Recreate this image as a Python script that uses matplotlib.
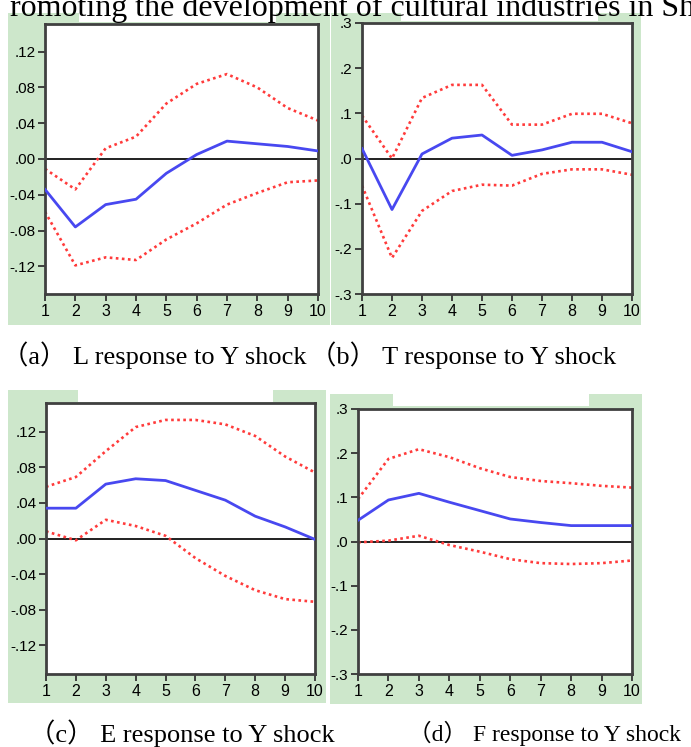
import matplotlib
matplotlib.use("Agg")
import matplotlib.pyplot as plt
from matplotlib.patches import Rectangle

W, H = 691, 747

periods = list(range(1, 11))

# (a) L response to Y shock
a_resp = [-0.034, -0.076, -0.051, -0.045, -0.016, 0.005, 0.020, 0.017, 0.014, 0.009]
a_upper = [-0.011, -0.034, 0.012, 0.025, 0.062, 0.084, 0.095, 0.080, 0.057, 0.043]
a_lower = [-0.059, -0.119, -0.110, -0.113, -0.090, -0.072, -0.051, -0.038, -0.026, -0.024]

# (b) T response to Y shock
b_resp = [0.022, -0.113, 0.010, 0.045, 0.052, 0.007, 0.019, 0.036, 0.036, 0.015]
b_upper = [0.095, 0.000, 0.134, 0.163, 0.163, 0.075, 0.075, 0.099, 0.099, 0.078]
b_lower = [-0.060, -0.220, -0.116, -0.072, -0.058, -0.060, -0.034, -0.024, -0.024, -0.036]

# (c) E response to Y shock
c_resp = [0.034, 0.034, 0.061, 0.067, 0.065, 0.054, 0.043, 0.025, 0.013, -0.001]
c_upper = [0.058, 0.069, 0.098, 0.125, 0.133, 0.133, 0.128, 0.115, 0.092, 0.074]
c_lower = [0.008, -0.002, 0.021, 0.014, 0.003, -0.022, -0.042, -0.058, -0.068, -0.071]

# (d) F response to Y shock
d_resp = [0.048, 0.094, 0.109, 0.089, 0.070, 0.051, 0.043, 0.036, 0.036, 0.036]
d_upper = [0.096, 0.187, 0.209, 0.191, 0.166, 0.146, 0.137, 0.132, 0.126, 0.122]
d_lower = [-0.002, 0.002, 0.013, -0.008, -0.023, -0.040, -0.049, -0.051, -0.049, -0.043]

small_ticks = [0.12, 0.08, 0.04, 0.0, -0.04, -0.08, -0.12]
small_labels = [".12", ".08", ".04", ".00", "-.04", "-.08", "-.12"]
big_ticks = [0.3, 0.2, 0.1, 0.0, -0.1, -0.2, -0.3]
big_labels = [".3", ".2", ".1", ".0", "-.1", "-.2", "-.3"]

captions = ["（a） L response to Y shock", "（b） T response to Y shock",
            "（c） E response to Y shock", "（d） F response to Y shock"]
top_line = "romoting the development of cultural industries in Sh"

GREEN = "#cde7cb"
tick_font = ["Liberation Sans"]
cap_font = ["Liberation Serif", "Noto Sans CJK SC"]

fig = plt.figure(figsize=(W / 100, H / 100), dpi=100)


def box(x0, y0, x1, y1, color, z=0):
    # pixel box (top-left origin) -> figure rectangle
    fig.add_artist(Rectangle((x0 / W, 1 - y1 / H), (x1 - x0) / W, (y1 - y0) / H,
                             transform=fig.transFigure, facecolor=color,
                             edgecolor="none", zorder=z))


def axes_px(x0, y0, x1, y1):
    return fig.add_axes([x0 / W, 1 - y1 / H, (x1 - x0) / W, (y1 - y0) / H])


# green panel backgrounds with the white notch on top
box(8, 13, 330, 325, GREEN)
box(79, 13, 276, 22, "white", 0.5)
box(331, 13, 641, 325, GREEN)
box(401, 13, 598, 21, "white", 0.5)
box(8, 390, 326, 703, GREEN)
box(78, 390, 273, 402, "white", 0.5)
box(330, 394, 642, 704, GREEN)
box(393, 394, 589, 406, "white", 0.5)

panels = [
    ((45, 24, 318, 294), a_resp, a_upper, a_lower, 0.151, small_ticks, small_labels),
    ((362, 23, 632, 294), b_resp, b_upper, b_lower, 0.3, big_ticks, big_labels),
    ((46, 403, 315, 674), c_resp, c_upper, c_lower, 0.152, small_ticks, small_labels),
    ((358, 409, 632, 674), d_resp, d_upper, d_lower, 0.3, big_ticks, big_labels),
]

for rect, resp, up, lo, lim, yt, yl in panels:
    ax = axes_px(*rect)
    ax.set_facecolor("white")
    ax.axhline(0, color="#202020", lw=1.4, zorder=1)
    ax.plot(periods, up, color="#ff3b3b", lw=1.9, ls=(0, (1, 1.3)), zorder=2)
    ax.plot(periods, lo, color="#ff3b3b", lw=1.9, ls=(0, (1, 1.3)), zorder=2)
    ax.plot(periods, resp, color="#4848f0", lw=2.0, zorder=3)
    ax.set_xlim(1, 10)
    ax.set_ylim(-lim, lim)
    ax.set_xticks(periods)
    ax.set_xticklabels([str(p) for p in periods], family=tick_font, fontsize=11.5)
    ax.set_yticks(yt)
    ax.set_yticklabels(yl, family=tick_font, fontsize=11)
    ax.tick_params(axis="both", direction="out", length=5, width=1.3,
                   color="#333333", pad=2)
    for sp in ax.spines.values():
        sp.set_color("#404040")
        sp.set_linewidth(2.0)

# captions
fig.text(2 / W, 1 - 355 / H, captions[0], family=cap_font, fontsize=19, va="center")
fig.text(310 / W, 1 - 355 / H, captions[1], family=cap_font, fontsize=19, va="center")
fig.text(29 / W, 1 - 733 / H, captions[2], family=cap_font, fontsize=19, va="center")
fig.text(408 / W, 1 - 733 / H, captions[3], family=cap_font, fontsize=17, va="center")

# cut-off line of body text above the figure
fig.text(10 / W, 1 - 16 / H, top_line, family=cap_font, fontsize=23, va="baseline")

fig.savefig("out.png", dpi=100)
